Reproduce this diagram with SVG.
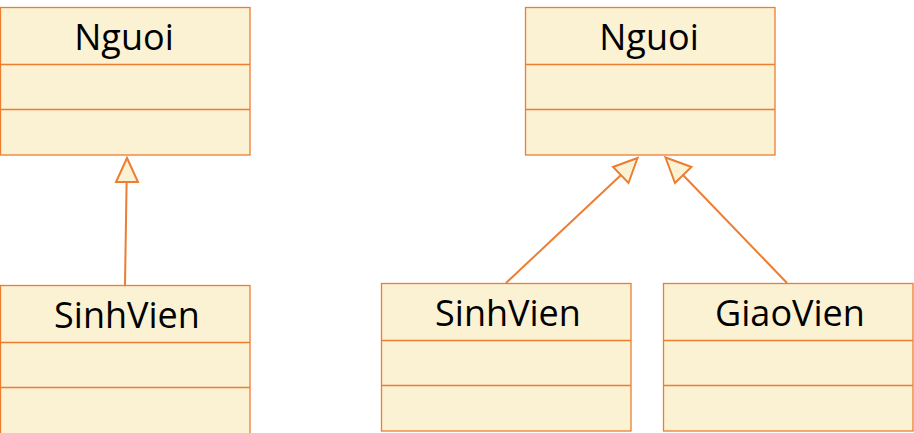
<svg xmlns="http://www.w3.org/2000/svg" width="914" height="433" viewBox="0 0 914 433">
<style>
.box{fill:#FBF1D3;stroke:#ED7D31;stroke-width:1.3}
.div{stroke:#ED7D31;stroke-width:1.3}
.t{font-family:"Open Sans","Noto Sans",sans-serif;font-size:36px;fill:#000;text-anchor:middle}
.c{stroke:#ED7D31;stroke-width:2;fill:none}
.h{fill:#FBF1D3;stroke:#ED7D31;stroke-width:2;stroke-linejoin:miter}
</style>
<rect width="914" height="433" fill="#fff"/>
<g id="nguoi1">
<rect class="box" x="0.5" y="7.5" width="249.5" height="147.5"/>
<line class="div" x1="0.5" y1="64.5" x2="250" y2="64.5"/>
<line class="div" x1="0.5" y1="109.5" x2="250" y2="109.5"/>
<text class="t" x="124" y="50">Nguoi</text>
</g>
<g id="sinhvien1">
<rect class="box" x="0.5" y="285.5" width="249.5" height="150"/>
<line class="div" x1="0.5" y1="342.5" x2="250" y2="342.5"/>
<line class="div" x1="0.5" y1="387.5" x2="250" y2="387.5"/>
<text class="t" x="127" y="328">SinhVien</text>
</g>
<g id="nguoi2">
<rect class="box" x="525.5" y="7.5" width="249.5" height="147.5"/>
<line class="div" x1="525.5" y1="64.5" x2="775" y2="64.5"/>
<line class="div" x1="525.5" y1="109.5" x2="775" y2="109.5"/>
<text class="t" x="649" y="50">Nguoi</text>
</g>
<g id="sinhvien2">
<rect class="box" x="381.5" y="283.5" width="249.5" height="147.5"/>
<line class="div" x1="381.5" y1="340.5" x2="631" y2="340.5"/>
<line class="div" x1="381.5" y1="385.5" x2="631" y2="385.5"/>
<text class="t" x="508" y="326">SinhVien</text>
</g>
<g id="giaovien">
<rect class="box" x="663.5" y="283.5" width="249.5" height="147.5"/>
<line class="div" x1="663.5" y1="340.5" x2="913" y2="340.5"/>
<line class="div" x1="663.5" y1="385.5" x2="913" y2="385.5"/>
<text class="t" x="790" y="326">GiaoVien</text>
</g>
<g id="connectors">
<line class="c" x1="125" y1="285" x2="126.6" y2="182"/>
<polygon class="h" points="127,158 116,182 138,182"/>
<line class="c" x1="506" y1="283" x2="621" y2="175"/>
<polygon class="h" points="637.5,158 613,167 628.5,183"/>
<line class="c" x1="787" y1="283" x2="683" y2="175"/>
<polygon class="h" points="665.5,157.5 675,183 691.5,167"/>
</g>
</svg>
